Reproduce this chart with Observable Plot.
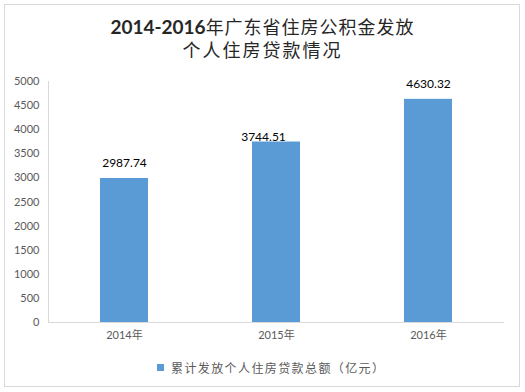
<!DOCTYPE html>
<html>
<head>
<meta charset="utf-8">
<script src="https://cdn.jsdelivr.net/npm/d3@7"></script>
<script src="https://cdn.jsdelivr.net/npm/@observablehq/plot@0.6"></script>
<style>
  html, body { margin: 0; padding: 0; background: #fff; }
  #frame { position: absolute; left: 4px; top: 4px; width: 514px; height: 381px; border: 1px solid #d9d9d9; box-sizing: content-box; }
  #title { position: absolute; left: 0; top: 15px; width: 525px; text-align: center; font-family: "Noto Sans CJK SC", sans-serif; font-size: 18px; line-height: 23px; color: #262626; letter-spacing: 1px; }
  #title b { font-family: "Lato", "Open Sans", sans-serif; font-weight: 700; font-size: 19px; letter-spacing: 0; }
  #chart { position: absolute; left: 0; top: 70px; }
  #legend { position: absolute; left: 157px; top: 359px; font-family: "Noto Sans CJK SC", sans-serif; font-size: 12px; color: #595959; display: flex; align-items: center; letter-spacing: 1.4px; }
  #legend .sw { width: 7px; height: 7px; background: #5b9bd5; margin-right: 7px; }
</style>
</head>
<body>
<div id="frame"></div>
<div id="title"><b>2014-2016</b>年广东省住房公积金发放<br><span style="letter-spacing:2px">个人住房贷款情况</span></div>
<div id="chart"></div>
<div id="legend"><div class="sw"></div><span>累计发放个人住房贷款总额（亿元）</span></div>
<script>
const years = ["2014年", "2015年", "2016年"];
const values = [2987.74, 3744.51, 4630.32];
const yTicks = [0, 500, 1000, 1500, 2000, 2500, 3000, 3500, 4000, 4500, 5000];
const seriesName = "累计发放个人住房贷款总额（亿元）";

const data = years.map((y, i) => ({year: y, value: values[i]}));

const plot = Plot.plot({
  width: 525,
  height: 280,
  marginLeft: 48,
  marginRight: 21,
  marginTop: 11,
  marginBottom: 28,
  style: {fontFamily: "Lato, 'Open Sans', sans-serif", fontSize: "11px", color: "#595959", background: "transparent"},
  x: {domain: years, paddingInner: 0.684, paddingOuter: 0.342, label: null},
  y: {domain: [0, 5000], label: null},
  marks: [
    Plot.barY(data, {x: "year", y: "value", fill: "#5b9bd5"}),
    Plot.ruleY([0], {stroke: "#d9d9d9", strokeWidth: 1}),
    Plot.frame({anchor: "left", stroke: "#d9d9d9"}),
    Plot.axisY({ticks: yTicks, tickFormat: "d", tickSize: 0, tickPadding: 9, fill: "#595959", fontSize: 11, label: null}),
    Plot.axisX({tickSize: 0, tickPadding: 9, fill: "#595959", fontSize: 11, label: null, fontFamily: "Lato, 'Noto Sans CJK SC', sans-serif"}),
    Plot.text(data.filter(d => d.year !== "2015年"), {x: "year", y: "value", text: d => d.value.toFixed(2), dy: -15, fill: "#000", fontSize: 12}),
    Plot.text(data.filter(d => d.year === "2015年"), {x: "year", y: "value", text: d => d.value.toFixed(2), dx: -13, dy: -5, fill: "#000", fontSize: 12})
  ]
});
document.getElementById("chart").appendChild(plot);
</script>
</body>
</html>
